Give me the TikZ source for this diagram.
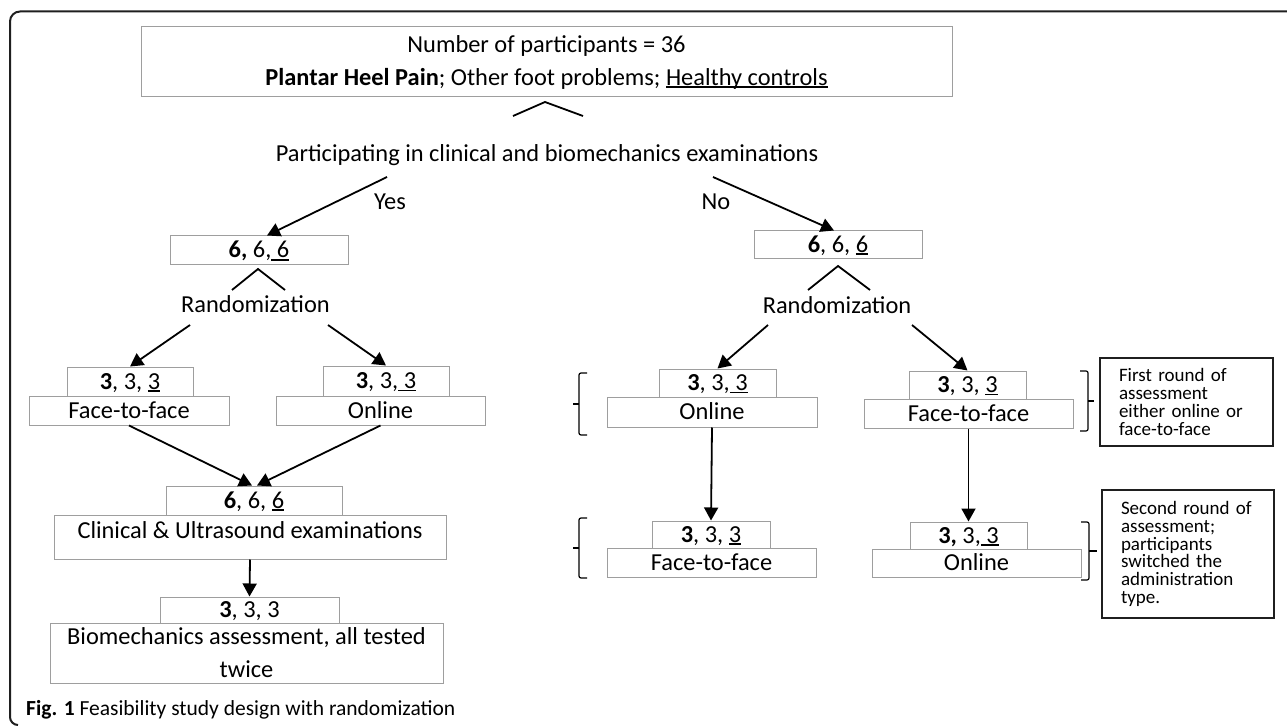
\documentclass[tikz,border=0pt]{standalone}
\usepackage{fontspec}
\setmainfont{Carlito}
\usetikzlibrary{arrows.meta}
\definecolor{boxgray}{gray}{0.62}
\definecolor{framegray}{gray}{0.12}
\newcommand\undl[1]{\setbox0\hbox{#1}\rlap{\rule[-2.6pt]{\wd0}{1.6pt}}\box0}
\newcommand\mainsz{\fontsize{24.4}{33}\selectfont}
\newcommand\notesz{\fontsize{19}{17.7}\selectfont}

\begin{document}
\begin{tikzpicture}
  [x=1pt,y=-1pt,
   box/.style={draw=boxgray,line width=1pt,inner sep=0pt,font=\mainsz,align=center},
   numbox/.style={box,text height=16,text depth=1},
   plain/.style={font=\mainsz,inner sep=0pt,text height=16,text depth=1},
   note/.style={draw=framegray,line width=1.4pt,font=\notesz,align=left,inner xsep=19pt,inner ysep=0pt},
   arr/.style={-{Triangle[length=13pt,width=14pt]},line width=1.8pt},
   cline/.style={line width=1.8pt},
   brc/.style={line width=1.2pt,rounded corners=2pt}]
  \useasboundingbox (0,0) rectangle (1287,727);
  % frame
  \draw[framegray,line width=2pt] (1287,11.5) -- (20,11.5) arc[start angle=270,end angle=180,radius=10]
    -- (10,717) arc[start angle=180,end angle=90,radius=8];

  \node[box,minimum width=811,minimum height=70] (top) at (546.5,62)
    {Number of participants = 36\\\textbf{Plantar Heel Pain}; Other foot problems; \undl{Healthy controls}};
  \node[plain] (partic) at (547,154) {Participating in clinical and biomechanics examinations};
  \node[plain] (yes) at (390,202) {Yes};
  \node[plain] (no) at (716,202) {No};

  % left branch
  \node[numbox,minimum width=178,minimum height=29] (n6L) at (259,250.5) {\textbf{6,} 6,\undl{ 6}};
  \node[plain] (randL) at (255.5,305) {Randomization};
  \node[numbox,minimum width=126,minimum height=29] (n3a) at (130,381.5) {\textbf{3}, 3, \undl{3}};
  \node[numbox,minimum width=200,minimum height=29] (lF2F) at (129,410.5) {Face-to-face};
  \node[numbox,minimum width=126,minimum height=30] (n3b) at (386,381) {\textbf{3}, 3,\undl{ 3}};
  \node[numbox,minimum width=209,minimum height=29] (lOnl) at (380.5,410.5) {Online};
  \node[numbox,minimum width=176,minimum height=29] (n6c) at (254,500.5) {\textbf{6}, 6, \undl{6}};
  \node[box,minimum width=392,minimum height=44,text height=20.5,text depth=17.5,inner ysep=3pt] (clin) at (250,537)
    {Clinical \& Ultrasound examinations};
  \node[numbox,minimum width=179,minimum height=26] (n3d) at (249.5,610) {\textbf{3}, 3, 3};
  \node[box,minimum width=393,minimum height=60] (bio) at (246.5,653)
    {Biomechanics assessment, all tested\\twice};

  % right branch
  \node[numbox,minimum width=168,minimum height=28] (n6R) at (838,245) {\textbf{6}, 6, \undl{6}};
  \node[plain] (randR) at (837,306) {Randomization};
  \node[numbox,minimum width=117,minimum height=28] (n3e) at (717.5,383) {\textbf{3}, 3,\undl{ 3}};
  \node[numbox,minimum width=210,minimum height=30] (rOnl) at (712,412) {Online};
  \node[numbox,minimum width=117,minimum height=28] (n3f) at (967.5,385) {\textbf{3}, 3, \undl{3}};
  \node[numbox,minimum width=209,minimum height=29] (rF2F) at (968.5,413.5) {Face-to-face};
  \node[numbox,minimum width=118,minimum height=27] (n3g) at (711,534.5) {\textbf{3}, 3, \undl{3}};
  \node[numbox,minimum width=209,minimum height=29] (rF2Fb) at (711.5,562.5) {Face-to-face};
  \node[numbox,minimum width=117,minimum height=27] (n3h) at (968.5,535.5) {\textbf{3,} 3,\undl{ 3}};
  \node[numbox,minimum width=209,minimum height=28] (rOnlb) at (976.5,563) {Online};

  \node[note,text width=135,minimum height=88] (note1) at (1186.5,402)
    {First round of\\assessment\\either online or\\face-to-face};
  \node[note,text width=134,minimum height=128] (note2) at (1188,554)
    {Second round of\\assessment;\\participants\\switched the\\administration\\type.};

  \node[anchor=west,inner sep=0pt,font=\fontsize{21.5}{24}\selectfont] (cap) at (26,710)
    {\textbf{Fig. 1} Feasibility study design with randomization};

  % arrows
  \coordinate (yesS) at (387,177);
  \coordinate (noS) at (713,177);
  \coordinate (rLa) at (190,325);
  \coordinate (rLb) at (328,325);
  \coordinate (rRa) at (768,325);
  \coordinate (rRb) at (912,325);
  \draw[arr] (yesS) -- ([xshift=8]n6L.north);
  \draw[arr] (noS) -- ([xshift=-4]n6R.north);
  \draw[arr] (lF2F.south) -- ([xshift=-2]n6c.north);
  \draw[arr] (lOnl.south) -- ([xshift=3]n6c.north);
  \foreach \from/\to in {rLa/n3a.north, rLb/n3b.north, rRa/n3e.north, rRb/n3f.north,
      clin.south/n3d.north, rOnl.south/n3g.north, rF2F.south/n3h.north}
    \draw[arr] (\from) -- (\to);

  % carets and braces
  \draw[cline] (513,116) -- (545,102) -- (583,116);
  \draw[cline] (232,290) -- (258,269) -- (285,290);
  \draw[cline] (808,290) -- (838,266) -- (870,290);
  \draw[brc] (587,373) -- (579,373) -- (579,435) -- (587,435);
  \draw[brc] (579,404) -- (573,404);
  \draw[brc] (587,518) -- (579,518) -- (579,578) -- (587,578);
  \draw[brc] (579,548) -- (573,548);
  \draw[brc] (1080,371) -- (1088,371) -- (1088,431) -- (1080,431);
  \draw[brc] (1088,401) -- (1094,401);
  \draw[brc] (1081,522) -- (1089,522) -- (1089,580) -- (1081,580);
  \draw[brc] (1089,551) -- (1097,551);
\end{tikzpicture}
\end{document}
